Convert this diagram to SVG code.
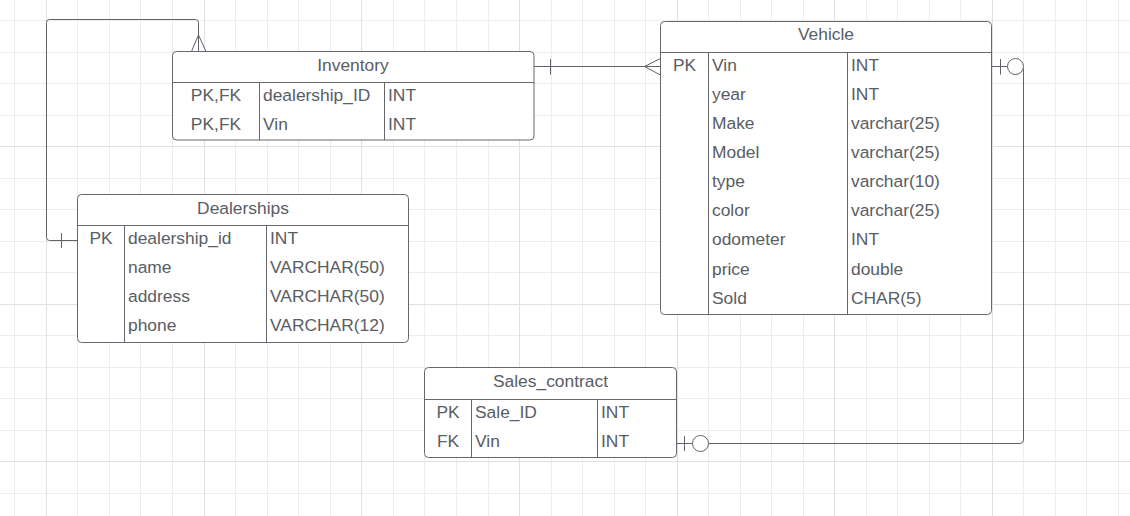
<svg xmlns="http://www.w3.org/2000/svg" width="1130" height="516" viewBox="0 0 1130 516">
<style>
.minor{stroke:#ededed;stroke-width:1;fill:none}
.major{stroke:#e0e0e0;stroke-width:1;fill:none}
.box{fill:#ffffff;stroke:#65686e;stroke-width:1}
.div{stroke:#65686e;stroke-width:1;fill:none}
.t{font-family:"Liberation Sans",Arial,sans-serif;font-size:17.4px;fill:#595d64}
.c{text-anchor:middle}
.conn{stroke:#5f6268;stroke-width:1;fill:none}
.circ{stroke:#5f6268;stroke-width:1;fill:#ffffff}
</style>
<rect x="0" y="0" width="1130" height="516" fill="#ffffff"/>
<g id="grid">
<path class="minor" d="M14.5,0V516M77.5,0V516M109.5,0V516M140.5,0V516M172.5,0V516M235.5,0V516M267.5,0V516M298.5,0V516M330.5,0V516M393.5,0V516M424.5,0V516M456.5,0V516M488.5,0V516M551.5,0V516M582.5,0V516M614.5,0V516M645.5,0V516M708.5,0V516M740.5,0V516M771.5,0V516M803.5,0V516M866.5,0V516M897.5,0V516M929.5,0V516M960.5,0V516M1023.5,0V516M1055.5,0V516M1086.5,0V516M1118.5,0V516M0,20.5H1130M0,52.5H1130M0,83.5H1130M0,115.5H1130M0,178.5H1130M0,209.5H1130M0,241.5H1130M0,272.5H1130M0,335.5H1130M0,367.5H1130M0,398.5H1130M0,430.5H1130M0,493.5H1130"/>
<path class="major" d="M46.5,0V516M204.5,0V516M361.5,0V516M519.5,0V516M677.5,0V516M834.5,0V516M992.5,0V516M0,146.5H1130M0,304.5H1130M0,461.5H1130"/>
</g>
<g id="connectors">
<path class="conn" d="M77.5,240.5H49.5Q46.5,240.5 46.5,237.5V22.5Q46.5,19.5 49.5,19.5H195.5Q198.5,19.5 198.5,22.5V51.5"/>
<path class="conn" d="M61.5,233V248"/>
<path class="conn" d="M191.5,51.5L198.5,35L206,51.5"/>
<path class="conn" d="M534,66.5H660.5"/>
<path class="conn" d="M550.5,59V74.5"/>
<path class="conn" d="M660.5,58.5L644.5,66.5L660.5,75"/>
<path class="conn" d="M991.5,66.5H1020Q1023.5,66.5 1023.5,70V440Q1023.5,443.5 1020,443.5H676.5"/>
<path class="conn" d="M1000.5,59V74.5"/>
<circle class="circ" cx="1015.5" cy="66.5" r="8"/>
<path class="conn" d="M684.5,436V451"/>
<circle class="circ" cx="700.5" cy="443.5" r="8"/>
</g>
<g id="Inventory">
<rect class="box" x="172.5" y="51.5" width="361.5" height="88.5" rx="4"/>
<path class="div" d="M172.5,82.5H534M259.5,82.5V140M384.5,82.5V140"/>
<text class="t c" x="353" y="70.5">Inventory</text>
<text class="t c" x="216" y="100.5">PK,FK</text>
<text class="t" x="263" y="100.5">dealership_ID</text>
<text class="t" x="388" y="100.5">INT</text>
<text class="t c" x="216" y="129.5">PK,FK</text>
<text class="t" x="263" y="129.5">Vin</text>
<text class="t" x="388" y="129.5">INT</text>
</g>
<g id="Vehicle">
<rect class="box" x="660.5" y="21.5" width="331" height="293" rx="4"/>
<path class="div" d="M660.5,52.5H991.5M708.5,52.5V314.5M847.5,52.5V314.5"/>
<text class="t c" x="826" y="40">Vehicle</text>
<text class="t c" x="684.5" y="70.8">PK</text>
<text class="t" x="712" y="70.8">Vin</text>
<text class="t" x="851" y="70.8">INT</text>
<text class="t" x="712" y="99.9">year</text>
<text class="t" x="851" y="99.9">INT</text>
<text class="t" x="712" y="129">Make</text>
<text class="t" x="851" y="129">varchar(25)</text>
<text class="t" x="712" y="158.1">Model</text>
<text class="t" x="851" y="158.1">varchar(25)</text>
<text class="t" x="712" y="187.2">type</text>
<text class="t" x="851" y="187.2">varchar(10)</text>
<text class="t" x="712" y="216.3">color</text>
<text class="t" x="851" y="216.3">varchar(25)</text>
<text class="t" x="712" y="245.4">odometer</text>
<text class="t" x="851" y="245.4">INT</text>
<text class="t" x="712" y="274.5">price</text>
<text class="t" x="851" y="274.5">double</text>
<text class="t" x="712" y="303.6">Sold</text>
<text class="t" x="851" y="303.6">CHAR(5)</text>
</g>
<g id="Dealerships">
<rect class="box" x="77.5" y="194.5" width="331" height="148" rx="4"/>
<path class="div" d="M77.5,225.5H408.5M124.5,225.5V342.5M266.5,225.5V342.5"/>
<text class="t c" x="243" y="213.5">Dealerships</text>
<text class="t c" x="101" y="243.6">PK</text>
<text class="t" x="128" y="243.6">dealership_id</text>
<text class="t" x="270" y="243.6">INT</text>
<text class="t" x="128" y="272.8">name</text>
<text class="t" x="270" y="272.8">VARCHAR(50)</text>
<text class="t" x="128" y="302">address</text>
<text class="t" x="270" y="302">VARCHAR(50)</text>
<text class="t" x="128" y="331.2">phone</text>
<text class="t" x="270" y="331.2">VARCHAR(12)</text>
</g>
<g id="Sales_contract">
<rect class="box" x="424.5" y="367.5" width="252" height="90" rx="4"/>
<path class="div" d="M424.5,399.5H676.5M471.5,399.5V457.5M597.5,399.5V457.5"/>
<text class="t c" x="550.5" y="386.5">Sales_contract</text>
<text class="t c" x="448" y="417.5">PK</text>
<text class="t" x="475" y="417.5">Sale_ID</text>
<text class="t" x="601" y="417.5">INT</text>
<text class="t c" x="448" y="446.5">FK</text>
<text class="t" x="475" y="446.5">Vin</text>
<text class="t" x="601" y="446.5">INT</text>
</g>
</svg>
